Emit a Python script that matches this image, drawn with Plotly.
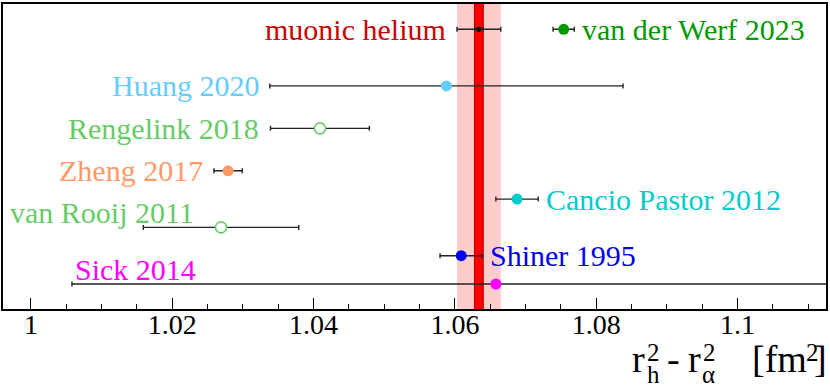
import plotly.graph_objects as go

# r_h^2 - r_alpha^2 comparison, values in fm^2
names = ["van der Werf 2023", "Huang 2020", "Rengelink 2018", "Zheng 2017",
         "Cancio Pastor 2012", "van Rooij 2011", "Shiner 1995", "Sick 2014"]
values = [1.0754, 1.0588, 1.0409, 1.0279, 1.0688, 1.0269, 1.0609, 1.0658]
errors = [0.0015, 0.0250, 0.0070, 0.0020, 0.0030, 0.0110, 0.0030, 0.0600]
rows = [9, 7, 5.5, 4, 3, 2, 1, 0]
colors = ["#009900", "#66ccff", "#66cc66", "#ff9966",
          "#00cccc", "#66cc66", "#0000ee", "#ff00ff"]
hollow = [False, False, True, False, False, True, False, False]
label_side = ["right", "left", "left", "left", "right", "above_far", "right", "above"]

# muonic helium result
mu_name = "muonic helium"
mu_value = 1.0634
mu_err = 0.0031
mu_err_inner = 0.0006
mu_core = 0.0007
mu_row = 9

tick_vals = [1, 1.02, 1.04, 1.06, 1.08, 1.1]
tick_text = ["1", "1.02", "1.04", "1.06", "1.08", "1.1"]

FONT = "Liberation Serif"

fig = go.Figure()

# muonic helium band
fig.add_shape(type="rect", xref="x", yref="paper", x0=mu_value - mu_err, x1=mu_value + mu_err,
              y0=0, y1=1, fillcolor="#ffcccc", line_width=0, layer="below")
fig.add_shape(type="rect", xref="x", yref="paper", x0=mu_value - mu_core, x1=mu_value + mu_core,
              y0=0, y1=1, fillcolor="#cc0000", line_width=0, layer="below")
fig.add_shape(type="rect", xref="x", yref="paper", x0=mu_value - mu_core * 0.72, x1=mu_value + mu_core * 0.72,
              y0=0, y1=1, fillcolor="#ff0000", line_width=0, layer="below")

# muonic helium point with error bars
fig.add_trace(go.Scatter(x=[mu_value], y=[mu_row], mode="markers",
                         marker=dict(color="#111111", size=5),
                         error_x=dict(type="data", array=[mu_err], color="#222222", thickness=1.4, width=2.5)))
fig.add_trace(go.Scatter(x=[mu_value], y=[mu_row], mode="markers",
                         marker=dict(color="#111111", size=5),
                         error_x=dict(type="data", array=[mu_err_inner], color="#222222", thickness=1.4, width=2.5)))

for i in range(len(names)):
    if hollow[i]:
        mk = dict(color="white", size=11, line=dict(color=colors[i], width=1.6))
    else:
        mk = dict(color=colors[i], size=11, line=dict(width=0))
    fig.add_trace(go.Scatter(x=[values[i]], y=[rows[i]], mode="markers", marker=mk,
                             error_x=dict(type="data", array=[errors[i]], color="#222222",
                                          thickness=1.4, width=2.5)))

# labels
fig.add_annotation(x=mu_value - mu_err, y=mu_row, xref="x", yref="y", text=mu_name,
                   xanchor="right", yanchor="middle", xshift=-9, showarrow=False,
                   font=dict(family=FONT, size=30, color="#cc0000"))
for i in range(len(names)):
    a = dict(text=names[i], xref="x", yref="y", y=rows[i], showarrow=False, yanchor="middle",
             font=dict(family=FONT, size=30, color=colors[i]))
    if label_side[i] == "right":
        a.update(x=values[i] + errors[i], xanchor="left", xshift=6)
    elif label_side[i] == "left":
        a.update(x=values[i] - errors[i], xanchor="right", xshift=-9)
    elif label_side[i] == "above":
        a.update(x=values[i] - errors[i], xanchor="left", xshift=1, yshift=15)
    else:
        a.update(x=0.006, xref="paper", xanchor="left", yshift=15)
    fig.add_annotation(**a)

# axis title, built from pieces so the sub/superscripts stack
def title_piece(txt, px, py, size, anchor="left"):
    fig.add_annotation(text=txt, xref="paper", yref="paper",
                       x=(px - 3) / 823, y=(309 - py) / 305, xanchor=anchor, yanchor="middle",
                       showarrow=False, borderpad=0,
                       font=dict(family=FONT, size=size, color="black"))

title_piece("r", 631, 359, 38)
title_piece("2", 646, 352, 25)
title_piece("h", 646, 374, 25)
title_piece("-", 666, 359, 38)
title_piece("r", 687, 359, 38)
title_piece("2", 702, 352, 25)
title_piece("α", 701, 374, 25)
title_piece("[fm", 808, 359, 38, "right")
title_piece("2", 805, 352, 25)
title_piece("]", 828, 359, 38, "right")

fig.update_layout(
    width=830, height=387,
    margin=dict(l=3, r=4, t=4, b=78, autoexpand=False),
    paper_bgcolor="white", plot_bgcolor="white",
    showlegend=False,
    font=dict(family=FONT, color="black"),
    xaxis=dict(range=[0.99604, 1.11253], tickvals=tick_vals, ticktext=tick_text,
               ticks="inside", ticklen=11, tickwidth=1.3, tickcolor="black",
               minor=dict(dtick=0.005, ticks="inside", ticklen=5, tickwidth=1.3, tickcolor="black"),
               showgrid=False, zeroline=False, showline=True, linecolor="black", linewidth=1.8,
               mirror=True, ticklabelstandoff=-11,
               tickfont=dict(family=FONT, size=28, color="black")),
    yaxis=dict(range=[-0.883, 9.894], showticklabels=False, ticks="", showgrid=False,
               zeroline=False, showline=True, linecolor="black", linewidth=1.8, mirror=True),
)

fig.write_html("out.html", config={"displayModeBar": False},
               post_script="document.body.style.margin='0px';")
